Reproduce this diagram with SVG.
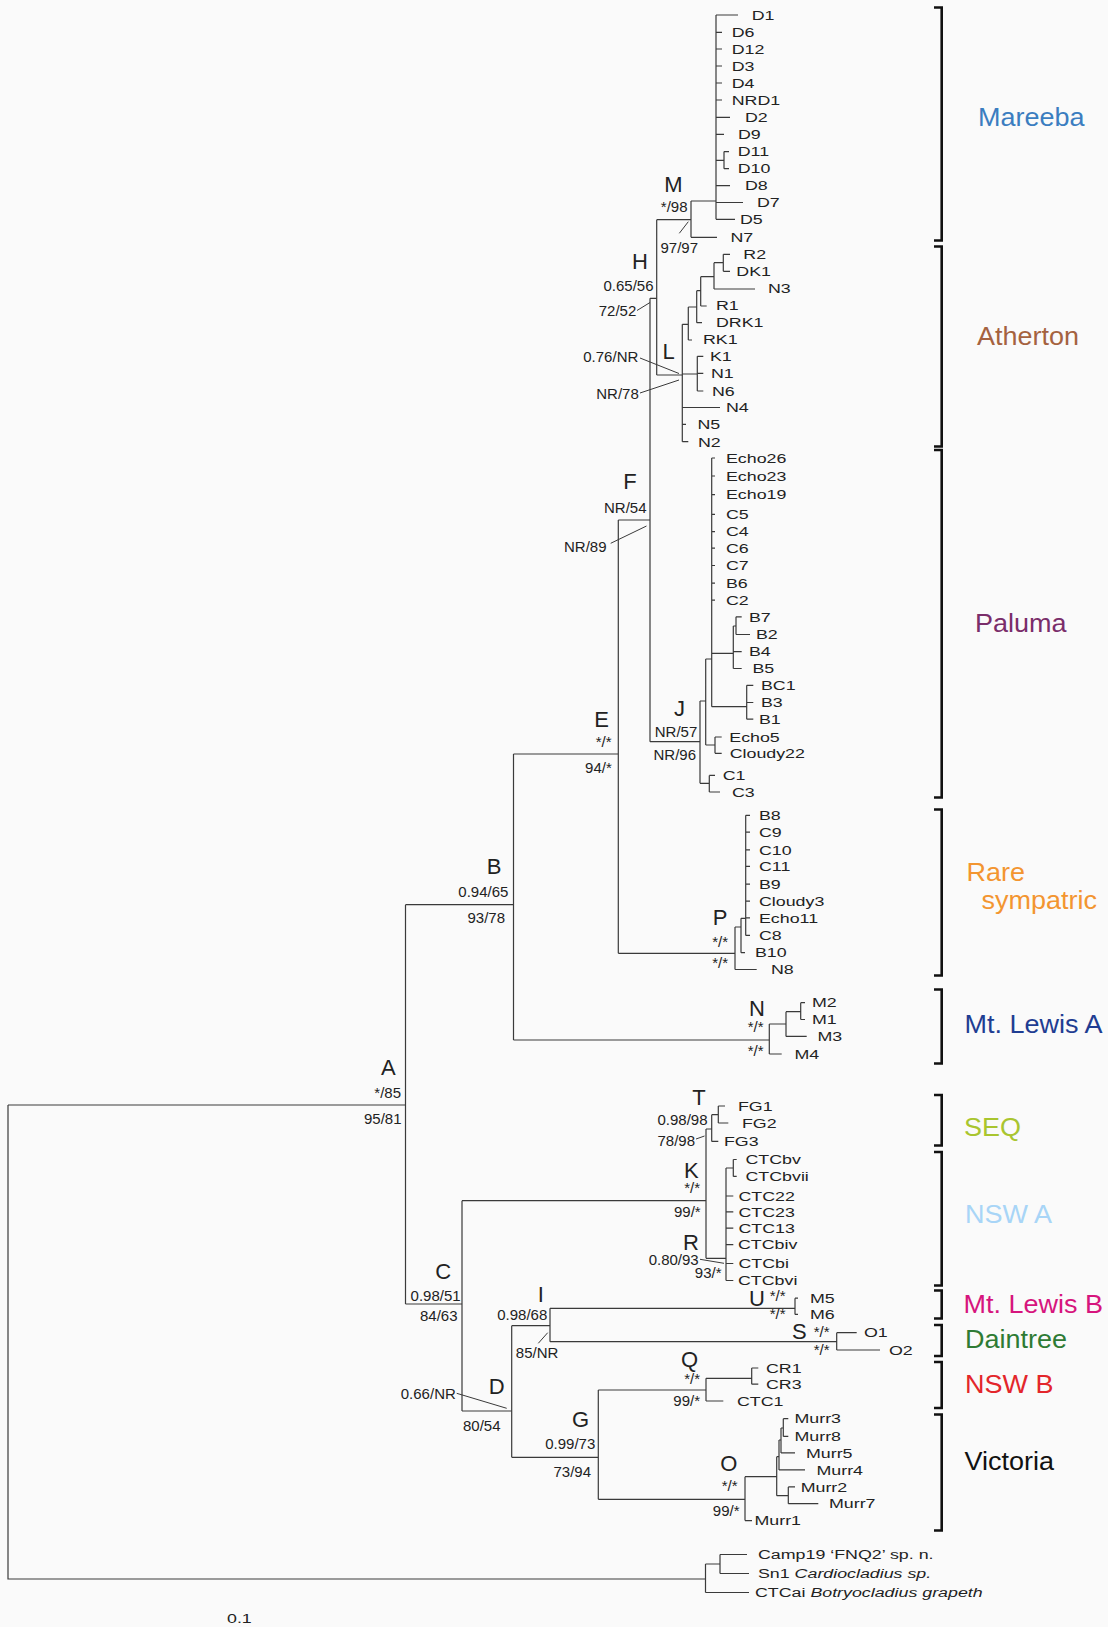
<svg xmlns="http://www.w3.org/2000/svg" width="1108" height="1627" viewBox="0 0 1108 1627">
<style>
text{font-family:"Liberation Sans",Arial,Helvetica,sans-serif;fill:#222}
.e{fill:none;stroke:#3a3a3a;stroke-width:1.2}
.ld{fill:none;stroke:#3a3a3a;stroke-width:1}
.br{fill:none;stroke:#111;stroke-width:2.6}
.lf{font-size:13.5px;transform-box:fill-box;transform-origin:0 50%;transform:scaleX(1.32)}
.bs{font-size:15px;text-anchor:end}
.bl{font-size:15px}
.nd{font-size:22px;text-anchor:middle}
.gp{font-size:25px;transform-box:fill-box;transform-origin:0 50%;transform:scaleX(1.08)}
</style>
<rect width="1108" height="1627" fill="#fafafa"/>
<g id="connectors">
<path class="e" d="M8 1105H405.5M8 1105V1579H705.5M405.5 904.7V1304M405.5 904.7H513.5M405.5 1304H462"/>
<path class="e" d="M513.5 754V1040M513.5 754H618.3M513.5 1040H769.3M618.3 520V953.3M618.3 520H650M618.3 953.3H735M650 298.3V741.7M650 298.3H656.7M650 741.7H700"/>
<path class="e" d="M656.7 219.7V375M656.7 219.7H691M656.7 375H682.3M691 201V237.3M691 237.3H717M691 201H716"/>
<path class="e" d="M716 15V219.3M716 15H738M716 32.3H722M716 49H722M716 66H722M716 83H722M716 100H722M716 117.3H730M716 134.3H724M716 160.3H724M724 151.6V168.7M724 151.6H729M724 168.7H729M716 185.7H730M716 202.5H743M716 219.3H735"/>
<path class="e" d="M682.3 324.3V441.7M682.3 324.3H688.3M688.3 307V340M688.3 340H692M688.3 307H696.7M696.7 290.7V322.7M696.7 322.7H702M696.7 290.7H700.7M700.7 276.7V306M700.7 306H706.7M700.7 276.7H714M714 262.7V289M714 289H755M714 262.7H723.3M723.3 254.3V271.3M723.3 254.3H730M723.3 271.3H730M682.3 374H697.3M697.3 356.3V391M697.3 356.3H703.3M697.3 373.3H703.3M697.3 391H703.3M682.3 407.5H720M682.3 424.3H686M682.3 441.7H688.3"/>
<path class="e" d="M700 701V783.3M700 783.3H709.3M709.3 775.4V792M709.3 775.4H715M709.3 792H720M700 701H705.7M705.7 659V745M705.7 745H715M715 737V753.3M715 737H721.7M715 753.3H721.7M705.7 659H711.7M711.7 458V706.7M711.7 458H715M711.7 476H715M711.7 494.7H715M711.7 514.3H715M711.7 531.7H715M711.7 548.2H715M711.7 565.5H715M711.7 583.2H715M711.7 600.2H715M711.7 653.3H733.3M733.3 626V668.5M733.3 626H736M736 616.8V634.5M736 616.8H741.7M736 634.5H750M733.3 651.6H741.7M733.3 668.5H741.7M711.7 706.7H746.7M746.7 685.3V719.2M746.7 685.3H753.3M746.7 702.5H753.3M746.7 719.2H753.3"/>
<path class="e" d="M735 927V969.5M735 969.5H756.7M735 927H741M741 918.3V952.7M741 952.7H745M741 918.3H745.7M745.7 815.3V935.4M745.7 815.3H750M745.7 832.2H750M745.7 849.9H750M745.7 866.4H750M745.7 884.2H750M745.7 901.1H750M745.7 917.9H750M745.7 935.4H750"/>
<path class="e" d="M769.3 1024V1054M769.3 1054H781.7M769.3 1024H786M786 1011.7V1036.4M786 1036.4H806.7M786 1011.7H800.7M800.7 1002.7V1019.5M800.7 1002.7H805M800.7 1019.5H805"/>
<path class="e" d="M462 1200.7V1411M462 1200.7H706M462 1411H511.7M706 1129V1258.3M706 1129H711.7M711.7 1114.7V1141.4M711.7 1141.4H718.3M711.7 1114.7H718.3M718.3 1106V1123M718.3 1106H725M718.3 1123H728.3M706 1258.3H726M726 1168V1280.5M726 1168H733.3M733.3 1159.5V1176.4M733.3 1159.5H736.7M733.3 1176.4H736.7M726 1196H733.3M726 1211.8H733.3M726 1228.2H733.3M726 1244.7H733.3M726 1263.5H733.3M726 1280.5H733.3"/>
<path class="e" d="M511.7 1325.7V1457.3M511.7 1325.7H550M550 1308.3V1341.7M550 1308.3H795M795 1298.2V1314.4M795 1298.2H798M795 1314.4H798M550 1341.7H836.7M836.7 1332.7V1350M836.7 1332.7H856.7M836.7 1350H880"/>
<path class="e" d="M511.7 1457.3H598.3M598.3 1390V1499.3M598.3 1390H706M706 1378.3V1401M706 1401H723.3M706 1378.3H751.7M751.7 1368V1384.2M751.7 1368H758.3M751.7 1384.2H758.3M598.3 1499.3H745M745 1476.7V1520.6M745 1520.6H752M745 1476.7H776.7M776.7 1456.7V1495.7M776.7 1495.7H788.3M788.3 1486.9V1503.7M788.3 1486.9H795M788.3 1503.7H818.3M776.7 1456.7H779M779 1440V1469.9M779 1469.9H805M779 1440H781M781 1428V1452.9M781 1452.9H795M781 1428H783.3M783.3 1418.7V1436.4M783.3 1418.7H788.3M783.3 1436.4H788.3"/>
<path class="e" d="M705.5 1564V1592.5M705.5 1564H720M720 1554.5V1573.5M720 1554.5H747M720 1573.5H749M705.5 1592.5H749"/>
<path class="ld" d="M679.3 233.3L688.3 221.7M637 310.5L650 302.5M640 358L679 373.5M640 393L679 380M610.7 543.3L646.5 526M696 1139L704.5 1136M700 1259.3L724 1263.3M538.3 1343.3L547.7 1332.7M456.7 1393.3L506.7 1408.3"/>
</g>
<g id="brackets">
<path class="br" d="M934 7.5H941.7V240.5H934M934 246.5H941.7V446.5H934M934 450H941.7V797.5H934M934 809.5H941.7V975.5H934M934 989.5H941.7V1063.5H934M934 1095H941.7V1145.5H934M934 1152H941.7V1285.5H934M934 1290.5H941.7V1318.5H934M934 1325H941.7V1356H934M934 1362H941.7V1408H934M934 1414.5H941.7V1530.5H934"/>
</g>
<g id="group-labels">
<text class="gp" x="978" y="125.8" style="fill:#3b7dc0">Mareeba</text>
<text class="gp" x="977" y="345.5" style="fill:#a5623f">Atherton</text>
<text class="gp" x="975" y="632" style="fill:#7a2d6a">Paluma</text>
<text class="gp" x="966.5" y="881.5" style="fill:#f39530">Rare</text>
<text class="gp" x="981.5" y="909" style="fill:#f39530">sympatric</text>
<text class="gp" x="964.5" y="1033.5" style="fill:#1f3d92">Mt. Lewis A</text>
<text class="gp" x="964" y="1136.5" style="fill:#a9c52f">SEQ</text>
<text class="gp" x="965" y="1223.5" style="fill:#a8d5f7">NSW A</text>
<text class="gp" x="963.5" y="1313.5" style="fill:#d6157d">Mt. Lewis B</text>
<text class="gp" x="965" y="1348" style="fill:#2e7b34">Daintree</text>
<text class="gp" x="965" y="1393" style="fill:#e3262b">NSW B</text>
<text class="gp" x="964.5" y="1470" style="fill:#111">Victoria</text>
</g>
<g id="node-A"><text class="nd" x="388.3" y="1074.9">A</text><text class="bs" x="401" y="1097.9">*/85</text><text class="bs" x="401.5" y="1124.1">95/81</text></g>
<g id="node-B"><text class="nd" x="494" y="874.2">B</text><text class="bs" x="508.4" y="897.4">0.94/65</text><text class="bs" x="505" y="923.4">93/78</text></g>
<g id="node-C"><text class="nd" x="443.3" y="1278.9">C</text><text class="bs" x="460.6" y="1301.4">0.98/51</text><text class="bs" x="457.5" y="1321">84/63</text></g>
<g id="node-D"><text class="nd" x="496.8" y="1393.9">D</text><text class="bs" x="455.8" y="1399.4">0.66/NR</text><text class="bl" x="463" y="1431.4">80/54</text></g>
<g id="node-E"><text class="nd" x="601.7" y="726.6">E</text><text class="bs" x="611.5" y="746.9">*/*</text><text class="bs" x="611.8" y="772.9">94/*</text></g>
<g id="node-F"><text class="nd" x="630" y="488.9">F</text><text class="bs" x="646.5" y="512.9">NR/54</text><text class="bs" x="606.5" y="551.6">NR/89</text></g>
<g id="node-G"><text class="nd" x="580.5" y="1427.4">G</text><text class="bs" x="595.3" y="1448.9">0.99/73</text><text class="bs" x="591" y="1476.7">73/94</text></g>
<g id="node-H"><text class="nd" x="640" y="268.9">H</text><text class="bs" x="653.5" y="291.4">0.65/56</text><text class="bs" x="636.3" y="316.4">72/52</text></g>
<g id="node-I"><text class="nd" x="540.8" y="1301.9">I</text><text class="bs" x="547.3" y="1320.1">0.98/68</text><text class="bl" x="515.8" y="1358">85/NR</text></g>
<g id="node-J"><text class="nd" x="679.5" y="715.9">J</text><text class="bs" x="697.3" y="736.9">NR/57</text><text class="bs" x="696" y="759.6">NR/96</text></g>
<g id="node-K"><text class="nd" x="691.3" y="1177.9">K</text><text class="bs" x="700" y="1193">*/*</text><text class="bs" x="700.7" y="1216.9">99/*</text></g>
<g id="node-L"><text class="nd" x="668.5" y="358.9">L</text><text class="bs" x="638.3" y="362.4">0.76/NR</text><text class="bs" x="638.8" y="399.4">NR/78</text></g>
<g id="node-M"><text class="nd" x="673.3" y="192.4">M</text><text class="bs" x="687.5" y="212.4">*/98</text><text class="bl" x="660.5" y="252.7">97/97</text></g>
<g id="node-N"><text class="nd" x="757" y="1016.3">N</text><text class="bs" x="763.5" y="1031.7">*/*</text><text class="bs" x="763.5" y="1056.4">*/*</text></g>
<g id="node-O"><text class="nd" x="728.8" y="1470.6">O</text><text class="bs" x="737.5" y="1490.7">*/*</text><text class="bs" x="739.5" y="1516.4">99/*</text></g>
<g id="node-P"><text class="nd" x="720" y="925.2">P</text><text class="bs" x="728" y="947.4">*/*</text><text class="bs" x="728" y="967.9">*/*</text></g>
<g id="node-Q"><text class="nd" x="689.5" y="1367.3">Q</text><text class="bs" x="700" y="1383.9">*/*</text><text class="bs" x="700" y="1406">99/*</text></g>
<g id="node-R"><text class="nd" x="691" y="1249.6">R</text><text class="bs" x="698.7" y="1264.7">0.80/93</text><text class="bs" x="721.5" y="1278.4">93/*</text></g>
<g id="node-S"><text class="nd" x="799.4" y="1339.2">S</text><text class="bs" x="829.5" y="1336.7">*/*</text><text class="bs" x="829.5" y="1355.4">*/*</text></g>
<g id="node-T"><text class="nd" x="699" y="1104.6">T</text><text class="bs" x="707.5" y="1125.4">0.98/98</text><text class="bs" x="695" y="1145.7">78/98</text></g>
<g id="node-U"><text class="nd" x="757" y="1305.9">U</text><text class="bs" x="785.5" y="1301.2">*/*</text><text class="bs" x="785.5" y="1319.4">*/*</text></g>
<g id="leaves-Mareeba">
<text class="lf" x="751.7" y="20.1">D1</text><text class="lf" x="731.7" y="37.1">D6</text><text class="lf" x="731.7" y="53.8">D12</text><text class="lf" x="731.7" y="70.8">D3</text><text class="lf" x="731.7" y="87.8">D4</text><text class="lf" x="731.7" y="104.8">NRD1</text><text class="lf" x="745" y="122.1">D2</text><text class="lf" x="738" y="139.1">D9</text><text class="lf" x="737.7" y="156.4">D11</text><text class="lf" x="737.7" y="173.5">D10</text><text class="lf" x="745" y="190.5">D8</text><text class="lf" x="757" y="207.3">D7</text><text class="lf" x="740" y="224.1">D5</text><text class="lf" x="730.5" y="242.1">N7</text>
</g>
<g id="leaves-Atherton">
<text class="lf" x="743.3" y="259.1">R2</text><text class="lf" x="736.3" y="276.1">DK1</text><text class="lf" x="768" y="293.1">N3</text><text class="lf" x="716" y="310.3">R1</text><text class="lf" x="716" y="327.1">DRK1</text><text class="lf" x="703" y="343.8">RK1</text><text class="lf" x="710" y="361.1">K1</text><text class="lf" x="711" y="378.1">N1</text><text class="lf" x="712" y="395.8">N6</text><text class="lf" x="726" y="412.3">N4</text><text class="lf" x="697.5" y="429.1">N5</text><text class="lf" x="698" y="446.6">N2</text>
</g>
<g id="leaves-Paluma">
<text class="lf" x="726" y="462.8">Echo26</text><text class="lf" x="726" y="480.8">Echo23</text><text class="lf" x="726" y="499.5">Echo19</text><text class="lf" x="726" y="519.1">C5</text><text class="lf" x="726" y="536.5">C4</text><text class="lf" x="726" y="553">C6</text><text class="lf" x="726" y="570.3">C7</text><text class="lf" x="726" y="588">B6</text><text class="lf" x="726" y="605">C2</text><text class="lf" x="749" y="621.6">B7</text><text class="lf" x="756" y="639.3">B2</text><text class="lf" x="749" y="656.4">B4</text><text class="lf" x="752.5" y="673.3">B5</text><text class="lf" x="761" y="690.1">BC1</text><text class="lf" x="761" y="707.3">B3</text><text class="lf" x="759" y="724">B1</text><text class="lf" x="729.3" y="741.8">Echo5</text><text class="lf" x="729.7" y="758.1">Cloudy22</text><text class="lf" x="722.7" y="780.2">C1</text><text class="lf" x="732" y="796.8">C3</text>
</g>
<g id="leaves-Rare">
<text class="lf" x="759" y="820.1">B8</text><text class="lf" x="759" y="837">C9</text><text class="lf" x="759" y="854.7">C10</text><text class="lf" x="759" y="871.2">C11</text><text class="lf" x="759" y="889">B9</text><text class="lf" x="759" y="905.9">Cloudy3</text><text class="lf" x="759" y="922.7">Echo11</text><text class="lf" x="759" y="940.2">C8</text><text class="lf" x="755" y="957.5">B10</text><text class="lf" x="771" y="974.3">N8</text>
</g>
<g id="leaves-MtLewisA">
<text class="lf" x="812" y="1007.5">M2</text><text class="lf" x="812" y="1024.3">M1</text><text class="lf" x="817.5" y="1041.2">M3</text><text class="lf" x="794.5" y="1058.8">M4</text>
</g>
<g id="leaves-SEQ">
<text class="lf" x="738" y="1110.8">FG1</text><text class="lf" x="742" y="1127.8">FG2</text><text class="lf" x="724" y="1146.2">FG3</text>
</g>
<g id="leaves-NSWA">
<text class="lf" x="745.5" y="1164.3">CTCbv</text><text class="lf" x="745.5" y="1181.2">CTCbvii</text><text class="lf" x="738.5" y="1200.8">CTC22</text><text class="lf" x="738.5" y="1216.6">CTC23</text><text class="lf" x="738.5" y="1233">CTC13</text><text class="lf" x="738" y="1249.5">CTCbiv</text><text class="lf" x="738.5" y="1268.3">CTCbi</text><text class="lf" x="738" y="1285.3">CTCbvi</text>
</g>
<g id="leaves-MtLewisB"><text class="lf" x="810" y="1303">M5</text><text class="lf" x="810" y="1319.2">M6</text></g>
<g id="leaves-Daintree"><text class="lf" x="864" y="1337.5">O1</text><text class="lf" x="889" y="1354.8">O2</text></g>
<g id="leaves-NSWB"><text class="lf" x="766" y="1372.8">CR1</text><text class="lf" x="766" y="1389">CR3</text><text class="lf" x="737" y="1405.8">CTC1</text></g>
<g id="leaves-Victoria">
<text class="lf" x="794.5" y="1423.5">Murr3</text><text class="lf" x="794.5" y="1441.2">Murr8</text><text class="lf" x="806" y="1457.7">Murr5</text><text class="lf" x="816.5" y="1474.7">Murr4</text><text class="lf" x="800.7" y="1491.7">Murr2</text><text class="lf" x="829" y="1508.5">Murr7</text><text class="lf" x="754.5" y="1525.4">Murr1</text>
</g>
<g id="outgroups">
<text class="lf" x="758" y="1559.3">Camp19 ‘FNQ2’ sp. n.</text>
<text class="lf" x="758" y="1578.3">Sn1 <tspan font-style="italic">Cardiocladius sp.</tspan></text>
<text class="lf" x="755" y="1597.3">CTCai <tspan font-style="italic">Botryocladius grapeth</tspan></text>
</g>
<g id="scale"><text class="lf" x="227" y="1623.3">0.1</text></g>
</svg>
